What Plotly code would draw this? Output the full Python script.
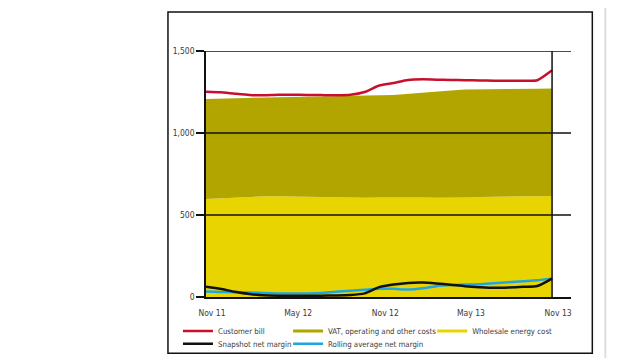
import plotly.graph_objects as go
import pandas as pd

# ---------------- data (monthly, Nov 2011 - Nov 2013, £/year) ----------------
months = pd.date_range("2011-11-01", periods=25, freq="MS")

customer_bill = [1252, 1249, 1240, 1232, 1230, 1233, 1233, 1232, 1231, 1230, 1233, 1250, 1290,
                 1305, 1323, 1327, 1325, 1323, 1322, 1320, 1319, 1319, 1319, 1322, 1382]
wholesale_cost = [598, 603, 608, 612, 614, 614, 612, 610, 607, 605, 604, 605, 606,
                  607, 608, 607, 605, 604, 607, 610, 613, 614, 615, 615, 616]
vat_other_costs = [609, 607, 604, 602, 602, 604, 608, 611, 615, 619, 622, 623, 624,
                   625, 630, 638, 647, 655, 659, 656, 653, 653, 653, 655, 656]
snapshot_margin = [63, 50, 32, 18, 10, 8, 8, 8, 8, 9, 12, 22, 60,
                   76, 86, 88, 83, 75, 66, 60, 56, 58, 62, 67, 112]
rolling_margin = [33, 31, 29, 27, 24, 22, 21, 22, 25, 32, 38, 44, 50,
                  50, 45, 53, 66, 73, 76, 78, 84, 90, 96, 102, 112]

x_tick_vals = ["2011-11-01", "2012-05-01", "2012-11-01", "2013-05-01", "2013-11-01"]
x_tick_labels = ["Nov 11", "May 12", "Nov 12", "May 13", "Nov 13"]
y_tick_vals = [0, 500, 1000, 1500]

# ---------------- styles ----------------
RED = "#c8102e"
OLIVE = "#b2a500"
YELLOW = "#e8d400"
BLACK = "#111111"
BLUE = "#1ea6e0"
FONT = "DejaVu Sans Condensed, Roboto, sans-serif"
TXT = "#3a3a3a"
FS = 8.5
LFS = 7.8

fig = go.Figure()

# stacked cost areas
fig.add_trace(go.Scatter(x=months, y=wholesale_cost, stackgroup="costs", mode="lines",
                         line=dict(width=0, color=YELLOW), fillcolor=YELLOW,
                         showlegend=False, hoverinfo="skip"))
fig.add_trace(go.Scatter(x=months, y=vat_other_costs, stackgroup="costs", mode="lines",
                         line=dict(width=0, color=OLIVE), fillcolor=OLIVE,
                         showlegend=False, hoverinfo="skip"))

# lines
fig.add_trace(go.Scatter(x=months, y=rolling_margin, mode="lines", name="Rolling average net margin",
                         line=dict(color=BLUE, width=2.5, shape="spline", smoothing=0.6),
                         legend="legend4"))
fig.add_trace(go.Scatter(x=months, y=snapshot_margin, mode="lines", name="Snapshot net margin",
                         line=dict(color=BLACK, width=2.5, shape="spline", smoothing=0.6),
                         legend="legend2"))
fig.add_trace(go.Scatter(x=months, y=customer_bill, mode="lines", name="Customer bill",
                         line=dict(color=RED, width=2.5, shape="spline", smoothing=0.6),
                         legend="legend"))

# legend entries for the areas (drawn as line samples like the original)
fig.add_trace(go.Scatter(x=[None], y=[None], mode="lines", name="VAT, operating and other costs",
                         line=dict(color=OLIVE, width=3), legend="legend3"))
fig.add_trace(go.Scatter(x=[None], y=[None], mode="lines", name="Wholesale energy cost",
                         line=dict(color=YELLOW, width=3), legend="legend5"))

# ---------------- layout geometry ----------------
# the page body adds an 8px offset, so the figure is drawn 8px smaller
OFF = 8
W, H = 636 - OFF, 358 - OFF
PL, PR, PT, PB = 206, 570.7, 51, 296.7          # plot-area edges in screen pixels
L, R, T, B = PL - OFF, W - (PR - OFF), PT - OFF, H - (PB - OFF)
pw, ph = W - L - R, H - T - B


def px(xs):
    return (xs - OFF - L) / pw


def py(ys):
    return (H - B - (ys - OFF)) / ph


leg_common = dict(bgcolor="rgba(0,0,0,0)", borderwidth=0, xanchor="left", yanchor="middle",
                  font=dict(family=FONT, size=LFS, color=TXT), itemwidth=30,
                  orientation="v", tracegroupgap=0)
col1, col2, col3 = px(178), px(288), px(432)
row1, row2 = py(330.7), py(343.3)

fig.update_layout(
    width=W, height=H, autosize=False,
    margin=dict(l=L, r=R, t=T, b=B, pad=0, autoexpand=False),
    paper_bgcolor="white", plot_bgcolor="white",
    font=dict(family=FONT, size=FS, color=TXT),
    legend=dict(x=col1, y=row1, **leg_common),
    legend2=dict(x=col1, y=row2, **leg_common),
    legend3=dict(x=col2, y=row1, **leg_common),
    legend4=dict(x=col2, y=row2, **leg_common),
    legend5=dict(x=col3, y=row1, **leg_common),
    xaxis=dict(
        type="date", range=["2011-11-01", "2013-12-11"],
        tickvals=x_tick_vals, ticktext=x_tick_labels,
        showgrid=False, zeroline=False, ticks="",
        showline=True, linecolor=BLACK, linewidth=1.5,
        ticklabelstandoff=7, ticklabelshift=6,
        tickfont=dict(family=FONT, size=FS, color=TXT),
        layer="above traces", automargin=False,
    ),
    yaxis=dict(
        range=[0, 1500], tickvals=y_tick_vals, tickformat=",",
        showgrid=False, zeroline=False,
        ticks="outside", ticklen=8, tickwidth=1.5, tickcolor=BLACK,
        showline=True, linecolor=BLACK, linewidth=1.5,
        tickfont=dict(family=FONT, size=FS, color=TXT),
        layer="above traces", automargin=False,
    ),
    hovermode=False,
)

shapes = []
# horizontal gridlines drawn over the areas
for v in [500, 1000, 1500]:
    shapes.append(dict(type="line", xref="paper", yref="y", x0=0, x1=1, y0=v, y1=v,
                       line=dict(color=BLACK, width=1.5), layer="above"))
# right edge of the data at Nov 13
shapes.append(dict(type="line", xref="x", yref="y", x0=x_tick_vals[-1], x1=x_tick_vals[-1],
                   y0=0, y1=1500, line=dict(color=BLACK, width=1.5), layer="above"))
# outer frame
shapes.append(dict(type="rect", xref="paper", yref="paper", x0=px(168), x1=px(592),
                   y0=py(353), y1=py(12), line=dict(color=BLACK, width=1.5),
                   fillcolor="rgba(0,0,0,0)", layer="above"))
# faint page edge on the right
shapes.append(dict(type="line", xref="paper", yref="paper", x0=px(605), x1=px(605),
                   y0=py(358), y1=py(0), line=dict(color="#dddddd", width=2), layer="above"))
fig.update_layout(shapes=shapes)

fig.write_html("out.html")
